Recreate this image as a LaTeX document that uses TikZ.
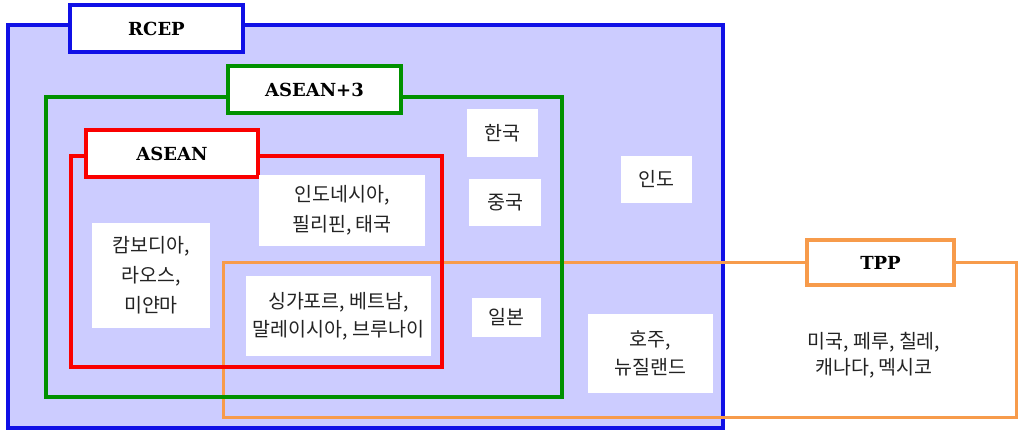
\documentclass[tikz,border=0pt]{standalone}
\usepackage{fontspec}
\newfontfamily\kr{Noto Sans CJK KR}
\newfontfamily\tagfont{DejaVu Serif}
\definecolor{lav}{RGB}{204,204,255}
\definecolor{rblue}{RGB}{16,16,230}
\definecolor{rgreen}{RGB}{0,145,0}
\definecolor{rred}{RGB}{250,0,0}
\definecolor{rorange}{RGB}{247,155,75}
\definecolor{txt}{RGB}{35,35,35}
\tikzset{
  region/.style={draw, inner sep=0pt, outer sep=0pt, anchor=north west},
  tag/.style={draw, fill=white, inner sep=0pt, outer sep=0pt, font=\tagfont\bfseries\fontsize{18}{20}\selectfont},
  cbox/.style={fill=white, inner sep=0pt, outer sep=0pt, align=center, text=txt, font=\kr\fontsize{19.5}{28}\selectfont},
  ctext/.style={inner sep=0pt, align=center, text=txt, font=\kr\fontsize{19.5}{26}\selectfont}
}
\begin{document}
\begin{tikzpicture}[x=1pt,y=-1pt]
\useasboundingbox (0,0) rectangle (1018,430);
% regions
\node[region, fill=lav, draw=rblue, line width=3.5pt, minimum width=715pt, minimum height=403pt] (rcep) at (8,25) {};
\node[region, draw=rorange, line width=3pt, minimum width=793pt, minimum height=154pt] (tpp) at (223,263) {};
\node[region, draw=rgreen, line width=4pt, minimum width=516pt, minimum height=300pt] (asean3) at (46,97) {};
\node[region, draw=rred, line width=4.5pt, minimum width=371pt, minimum height=211pt] (asean) at (71,156) {};
% labels
\node[tag, draw=rblue, line width=3.5pt, minimum width=173pt, minimum height=47pt] (rcepL) at (156.5,28.5) {RCEP};
\node[tag, draw=rgreen, line width=4pt, minimum width=173pt, minimum height=47pt] (asean3L) at (314.5,89.5) {ASEAN+3};
\node[tag, draw=rred, line width=4.5pt, minimum width=172pt, minimum height=47pt] (aseanL) at (172,153.5) {ASEAN};
\node[tag, draw=rorange, line width=3.5pt, minimum width=147pt, minimum height=45pt] (tppL) at (880.5,262.5) {TPP};
% country boxes
\node[cbox, minimum width=71pt, minimum height=48pt] (kor) at (502.5,133) {한국};
\node[cbox, minimum width=72pt, minimum height=47pt] (chn) at (505,202.5) {중국};
\node[cbox, minimum width=71pt, minimum height=47pt] (ind) at (656.5,179.5) {인도};
\node[cbox, minimum width=69pt, minimum height=39pt] (jpn) at (506.5,317.5) {일본};
\node[cbox, minimum width=125pt, minimum height=79pt] (aus) at (650.5,353.5) {호주,\\뉴질랜드};
\node[cbox, font=\kr\fontsize{19.5}{30}\selectfont, minimum width=118pt, minimum height=105pt] (cam) at (151,275.5) {캄보디아,\\라오스,\\미얀마};
\node[cbox, font=\kr\fontsize{19.5}{30}\selectfont, minimum width=166pt, minimum height=71pt] (idn) at (342,210.5) {인도네시아,\\필리핀, 태국};
\node[cbox, minimum width=185pt, minimum height=80pt] (sgp) at (338.5,316) {싱가포르, 베트남,\\말레이시아, 브루나이};
\node[ctext] (usa) at (874,355) {미국, 페루, 칠레,\\캐나다, 멕시코};
\end{tikzpicture}
\end{document}
